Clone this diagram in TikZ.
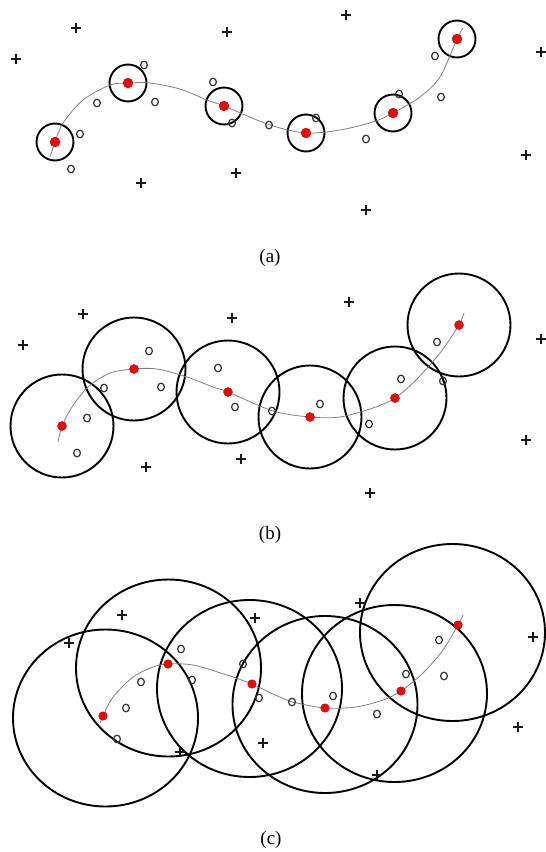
\documentclass[tikz,border=0pt]{standalone}
\usepackage{fontspec}
\setmainfont{Liberation Serif}
\begin{document}
\begin{tikzpicture}[x=1pt,y=-1pt,
  ring/.style={draw=black,line width=1.9pt},
  track/.style={draw=black!50,line width=0.8pt},
  omark/.style={draw=black!80,line width=1.2pt},
  reddot/.style={fill=red,draw=red!55!black,line width=0.3pt},
  caption/.style={font=\fontsize{19}{22}\selectfont},
  pls/.pic={\draw[line width=1.4pt,black!90] (-4.8,0)--(4.8,0) (0,-4.8)--(0,4.8);}
]
\useasboundingbox (0,0) rectangle (546,852);
\fill[white] (0,0) rectangle (546,852);

% ---------------- panel (a) ----------------
\foreach \n/\p in {1/{55,142},2/{128,83},3/{224,106},4/{306,133},5/{393,113},6/{457,39}}
  \coordinate (a\n) at (\p);
\foreach \n in {1,...,6} \draw[ring] (a\n) circle (18.5);
\draw[track] plot[smooth,tension=0.5] coordinates {(50,157) (55,142) (63,123) (83,100) (110,85) (128,83) (150,83) (180,89) (207,100) (224,106) (270,125) (306,133) (340,130) (373,122) (393,113) (420,97) (440,77) (457,39) (463,28)};
\foreach \p in {{144,65},{97,103},{155,102},{80,134},{71,169},{213,82},{232,123},{269,125},{316,118},{366,139},{399,94},{441,97},{435,56}}
  \draw[omark] (\p) ellipse (3.4 and 3.8);
\foreach \p in {{76,28},{227,32},{16,59},{141,183},{236,173},{346,15},{541,52},{526,155},{366,210}}
  \pic at (\p) {pls};
\foreach \n in {1,...,6} \fill[reddot] (a\n) circle (4.9);
\node[caption] (capa) at (270,258) {(a)};

% ---------------- panel (b) ----------------
\foreach \n/\p in {1/{62,426},2/{134,369},3/{228,392},4/{310,417},5/{395,398},6/{459,325}}
  \coordinate (b\n) at (\p);
\foreach \n in {1,...,6} \draw[ring] (b\n) circle (51.5);
\draw[track] plot[smooth,tension=0.5] coordinates {(58,442) (62,426) (72,407) (88,387) (110,373) (134,369) (157,369) (187,377) (213,387) (228,392) (273,411) (310,417) (340,417) (373,408) (395,398) (416,380) (440,353) (459,325) (464,313)};
\foreach \p in {{149,351},{104,388},{161,387},{87,418},{77,453},{218,368},{235,407},{272,411},{320,404},{369,424},{401,379},{443,381},{437,342}}
  \draw[omark] (\p) ellipse (3.4 and 3.8);
\foreach \p in {{83,314},{232,318},{23,345},{146,467},{241,459},{349,302},{541,339},{526,440},{370,493}}
  \pic at (\p) {pls};
\foreach \n in {1,...,6} \fill[reddot] (b\n) circle (4.5);
\node[caption] (capb) at (270,535) {(b)};

% ---------------- panel (c) ----------------
\foreach \n/\p in {1/{103,716},2/{168,664},3/{252,684},4/{325,708},5/{401,691},6/{458,625}}
  \coordinate (c\n) at (\p);
\foreach \n/\p in {1/{105.5,718},2/{168.5,668},3/{249.5,688.5},4/{325,704.5},5/{394.5,693.5},6/{452.5,632.5}}
  \coordinate (k\n) at (\p);
\foreach \n in {1,...,6} \draw[ring] (k\n) ellipse (92.5 and 88.5);
\draw[track] plot[smooth,tension=0.5] coordinates {(100,723) (103,716) (113,697) (133,677) (153,667) (168,664) (193,665) (227,675) (252,684) (273,694) (293,702) (325,708) (356,707) (383,700) (401,691) (423,673) (443,650) (458,625) (463,615)};
\foreach \p in {{181,649},{141,682},{192,680},{126,708},{117,739},{243,664},{259,698},{292,702},{333,696},{377,714},{406,674},{444,676},{439,640}}
  \draw[omark] (\p) ellipse (3.4 and 3.8);
\foreach \p in {{122,615},{69,643},{255,618},{180,752},{263,743},{360,603},{533,637},{518,727},{377,775}}
  \pic at (\p) {pls};
\foreach \n in {1,...,6} \fill[reddot] (c\n) circle (4.3);
\node[caption] (capc) at (271,840) {(c)};
\end{tikzpicture}
\end{document}
